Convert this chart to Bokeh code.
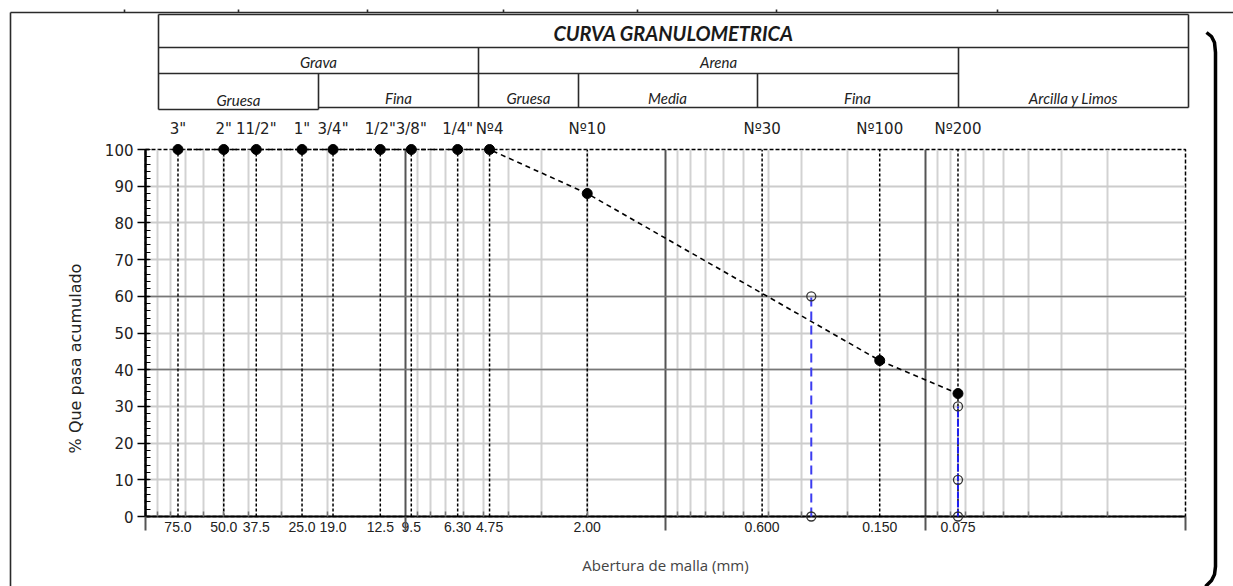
import numpy as np
from bokeh.plotting import figure
from bokeh.models import (Range1d, LinearScale, FixedTicker, Grid, ColumnDataSource)
from bokeh.core.properties import value
from bokeh.embed import file_html
from bokeh.resources import INLINE

# ---------------- data ----------------
sieve_names = ['3"', '2"', '11/2"', '1"', '3/4"', '1/2"', '3/8"', '1/4"',
               'Nº4', 'Nº10', 'Nº30', 'Nº100', 'Nº200']
sieve_mm = [75.0, 50.0, 37.5, 25.0, 19.0, 12.5, 9.5, 6.3, 4.75, 2.0, 0.425, 0.15, 0.075]
sieve_tick_labels = ['75.0', '50.0', '37.5', '25.0', '19.0', '12.5', '9.5', '6.30',
                     '4.75', '2.00', '0.600', '0.150', '0.075']

curve_mm = [75.0, 50.0, 37.5, 25.0, 19.0, 12.5, 9.5, 6.3, 4.75, 2.0, 0.15, 0.075]
curve_pass = [100, 100, 100, 100, 100, 100, 100, 100, 100, 88.0, 42.5, 33.5]

d60_mm = [0.275, 0.275]
d60_pass = [0, 60]

fines_mm = [0.075, 0.075, 0.075]
fines_pass = [0, 10, 30]

y_ticks = list(range(0, 101, 10))
y_minor = list(range(0, 101, 2))
decades = [100, 10, 1, 0.1, 0.01]
log_minor = [k * d for d in [10, 1, 0.1, 0.01] for k in range(2, 10)]
ref_levels = [40, 60]

header_title = "CURVA GRANULOMETRICA"
header_row2 = ["Grava", "Arena"]
header_row3 = ["Gruesa", "Fina", "Gruesa", "Media", "Fina", "Arcilla y Limos"]
x_title = "Abertura de malla (mm)"
y_title = "% Que pasa acumulado"

# ---------------- figure ----------------
p = figure(frame_width=1040, frame_height=367,
           min_border_left=145, min_border_right=48,
           min_border_top=149, min_border_bottom=70,
           x_axis_type="log", x_range=Range1d(100, 0.01), y_range=Range1d(0, 100),
           output_backend="svg", toolbar_location=None)
p.background_fill_color = "white"
p.border_fill_color = "white"
p.outline_line_color = "black"
p.outline_line_dash = "4 2"
p.outline_line_width = 1.5

# pixel-space ranges for decorations around the plot
p.extra_x_ranges = {"px": Range1d(145, 1185)}
p.extra_y_ranges = {"px": Range1d(516, 149)}
p.extra_x_scales = {"px": LinearScale()}
p.extra_y_scales = {"px": LinearScale()}

# x axis
xa = p.xaxis[0]
xa.ticker = FixedTicker(ticks=sieve_mm, minor_ticks=log_minor)
xa.major_label_overrides = {float(m): t for m, t in zip(sieve_mm, sieve_tick_labels)}
xa.major_tick_out = 0
xa.major_tick_in = 0
xa.minor_tick_out = 0
xa.minor_tick_in = 5
xa.minor_tick_line_color = "#777777"
xa.minor_tick_line_width = 1.5
xa.axis_line_color = "black"
xa.axis_line_width = 2
xa.major_label_standoff = 5
xa.major_label_text_font = "Liberation Sans"
xa.major_label_text_font_size = "14px"
xa.major_label_text_color = "#222222"
xa.axis_label = x_title
xa.axis_label_text_font = "Open Sans"
xa.axis_label_text_font_style = "normal"
xa.axis_label_text_font_size = "15px"
xa.axis_label_standoff = 20

# y axis
ya = p.yaxis[0]
ya.ticker = FixedTicker(ticks=y_ticks, minor_ticks=y_minor)
ya.major_tick_out = 8
ya.major_tick_in = 4
ya.minor_tick_out = 0
ya.minor_tick_in = 5
ya.major_tick_line_color = "black"
ya.minor_tick_line_color = "black"
ya.major_tick_line_width = 1.5
ya.axis_line_color = "black"
ya.axis_line_width = 2.5
ya.major_label_standoff = 4
ya.major_label_text_font = "DejaVu Sans"
ya.major_label_text_font_size = "15px"
ya.major_label_text_color = "#222222"
ya.axis_label = None

# grids
p.ygrid.ticker = FixedTicker(ticks=y_ticks)
p.ygrid.grid_line_color = "#cccccc"
p.ygrid.grid_line_width = 2
p.xgrid.ticker = FixedTicker(ticks=log_minor)
p.xgrid.grid_line_color = "#d2d2d2"
p.xgrid.grid_line_width = 2
p.add_layout(Grid(dimension=0, ticker=FixedTicker(ticks=decades),
                  grid_line_color="#555555", grid_line_width=2))
p.add_layout(Grid(dimension=1, ticker=FixedTicker(ticks=ref_levels),
                  grid_line_color="#777777", grid_line_width=1.5))

# decade ticks reaching below the x axis
p.segment(x0=decades, x1=decades, y0=516, y1=530, y_range_name="px",
          line_color="#555555", line_width=2, level="overlay")

# sieve reference lines
p.segment(x0=sieve_mm, x1=sieve_mm, y0=0, y1=100, line_color="black",
          line_width=1.5, line_dash="3 2")

# grading curve
p.line(curve_mm, curve_pass, line_color="black", line_width=1.6, line_dash="5 4",
       level="overlay")
p.scatter(curve_mm, curve_pass, size=10, color="black", level="overlay")

# blue helper lines
p.line(d60_mm, d60_pass, line_color="#3c3cf0", line_width=2, line_dash="9 5", level="overlay")
p.scatter(d60_mm, d60_pass, size=9, fill_color=None, line_color="#333333", line_width=1.3,
          level="overlay")
p.line(fines_mm, fines_pass, line_color="#2020f0", line_width=2, line_dash="7 2", level="overlay")
p.scatter(fines_mm, fines_pass, size=9, fill_color=None, line_color="#333333", line_width=1.3,
          level="overlay")

# sieve names above the frame
top_src = ColumnDataSource(dict(x=sieve_mm, y=[128] * len(sieve_mm), t=sieve_names))
p.text(x="x", y="y", text="t", source=top_src, y_range_name="px",
       text_align="center", text_baseline="middle",
       text_font=value("DejaVu Sans"), text_font_size="15px",
       text_color="#222222", level="overlay")

# y axis title (rotated)
p.text(x=[75], y=[358], text=[y_title], x_range_name="px", y_range_name="px",
       angle=np.pi / 2, text_align="center", text_baseline="middle",
       text_font=value("DejaVu Sans"), text_font_size="16px",
       text_color="#222222", level="overlay")

# ---------------- table / frame decorations (pixel space) ----------------
tab_x0 = [10, 10, 158, 158, 158, 318, 158, 158, 1188, 478, 958, 318, 578, 757] + [124, 238, 367, 503, 637, 776, 997]
tab_y0 = [12, 12, 14, 47, 73, 107, 109, 14, 14, 47, 47, 73, 73, 73] + [9] * 7
tab_x1 = [1233, 10, 1188, 1188, 958, 1188, 318, 158, 1188, 478, 958, 318, 578, 757] + [124, 238, 367, 503, 637, 776, 997]
tab_y1 = [12, 586, 14, 47, 73, 107, 109, 109, 107, 107, 107, 109, 107, 107] + [12] * 7
p.segment(x0=tab_x0, y0=tab_y0, x1=tab_x1, y1=tab_y1, x_range_name="px", y_range_name="px",
          line_color="#2a2a2a", line_width=1.6, level="overlay")

br_x = [1206, 1211, 1214, 1215, 1215, 1214, 1211, 1205]
br_y = [32, 36, 42, 52, 566, 574, 580, 586]
p.line(br_x, br_y, x_range_name="px", y_range_name="px", line_color="black",
       line_width=3.5, level="overlay")

p.text(x=[673], y=[32], text=[header_title], x_range_name="px", y_range_name="px",
       text_align="center", text_baseline="middle", text_font=value("Lato"),
       text_font_style="bold italic", text_font_size="20px", text_color="#1a1a1a",
       level="overlay")
hdr_src = ColumnDataSource(dict(
    x=[318, 718, 238, 398, 528, 667, 857, 1073],
    y=[61, 61, 99, 97, 97, 97, 97, 97],
    t=header_row2 + header_row3))
p.text(x="x", y="y", text="t", source=hdr_src, x_range_name="px", y_range_name="px",
       text_align="center", text_baseline="middle",
       text_font=value("Lato"), text_font_style="italic", text_font_size="15px",
       text_color="#222222", level="overlay")

open("out.html", "w").write(file_html(p, INLINE))
